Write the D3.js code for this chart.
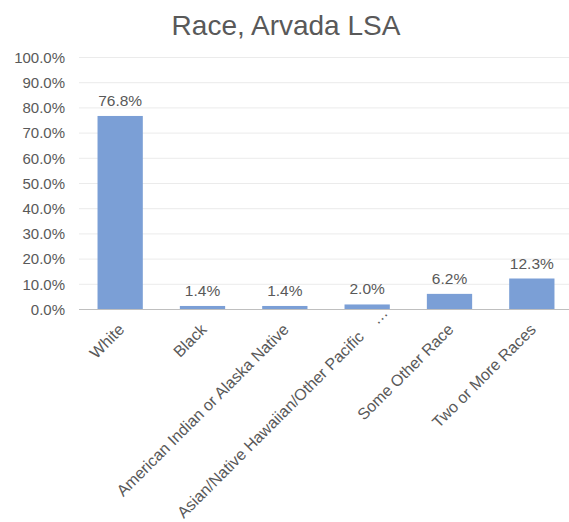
<!DOCTYPE html>
<html>
<head>
<meta charset="utf-8">
<script src="https://cdn.jsdelivr.net/npm/d3@7"></script>
<style>
  body { margin:0; background:#fff; }
  text { font-family: "Liberation Sans", Arial, sans-serif; }
</style>
</head>
<body>
<div id="chart"></div>
<script>
var categories = ["White", "Black", "American Indian or Alaska Native",
                  "Asian/Native Hawaiian/Other Pacific    \u2026", "Some Other Race", "Two or More Races"];
var values = [76.8, 1.4, 1.4, 2.0, 6.2, 12.3];
var yTicks = [0, 10, 20, 30, 40, 50, 60, 70, 80, 90, 100];

var _dim = {width:569, height:522},
    _plot = {left:79, right:573, top:57.5, bottom:309.5},
    _labelFont = 16,
    _textColor = "#595959";

var svg = d3.select("#chart").append("svg")
    .attr("width", _dim.width).attr("height", _dim.height);

//--------------------------------- Titulo
svg.append("text")
    .attr("x", 286).attr("y", 35)
    .attr("text-anchor", "middle")
    .attr("font-size", 28).attr("fill", _textColor)
    .text("Race, Arvada LSA");

var x = d3.scaleBand().domain(categories).range([_plot.left, _plot.right]).paddingInner(0.45).paddingOuter(0.225);
var y = d3.scaleLinear().domain([0, 100]).range([_plot.bottom, _plot.top]);

//--------------------------------- Grade
svg.append("g").selectAll("line").data(yTicks.filter(function(d){ return d > 0; }))
  .enter().append("line")
    .attr("x1", _plot.left).attr("x2", _plot.right)
    .attr("y1", function(d){ return y(d); }).attr("y2", function(d){ return y(d); })
    .attr("stroke", "#ebebeb").attr("stroke-width", 1);

//--------------------------------- Eixo Y
var yAxis = svg.append("g")
    .attr("transform", "translate(" + _plot.left + ",0)")
    .call(d3.axisLeft(y).tickValues(yTicks).tickSize(0).tickPadding(14)
          .tickFormat(function(d){ return d.toFixed(1) + "%"; }));
yAxis.select(".domain").remove();
yAxis.selectAll("text").attr("font-size", 15).attr("fill", _textColor)
    .attr("font-family", "Liberation Sans, Arial, sans-serif");

//--------------------------------- Barras
svg.append("g").selectAll("rect").data(values)
  .enter().append("rect")
    .attr("x", function(d, i){ return x(categories[i]); })
    .attr("y", function(d){ return y(d); })
    .attr("width", x.bandwidth())
    .attr("height", function(d){ return y(0) - y(d); })
    .attr("fill", "#7b9fd6");

//--------------------------------- Rotulos de dados
svg.append("g").selectAll("text").data(values)
  .enter().append("text")
    .attr("x", function(d, i){ return x(categories[i]) + x.bandwidth()/2; })
    .attr("y", function(d){ return y(d) - 10; })
    .attr("text-anchor", "middle")
    .attr("font-size", 15.5).attr("fill", _textColor)
    .text(function(d){ return d.toFixed(1) + "%"; });

//--------------------------------- Eixo X
svg.append("line")
    .attr("x1", _plot.left).attr("x2", _plot.right)
    .attr("y1", _plot.bottom).attr("y2", _plot.bottom)
    .attr("stroke", "#bfbfbf").attr("stroke-width", 1);

var ty = _plot.bottom + 13, dyPx = 0.71 * _labelFont, c45 = Math.SQRT1_2;
svg.append("g").selectAll("text").data(categories)
  .enter().append("text")
    .attr("transform", function(d){
        return "translate(" + (x(d) + x.bandwidth()/2 - 3) + "," + ty + ") rotate(-45)";
    })
    .attr("text-anchor", "end")
    .attr("dy", "0.71em")
    .attr("font-size", _labelFont).attr("fill", _textColor)
    .attr("xml:space", "preserve")
    .text(function(d){ return d; })
    .each(function() {          // empurra rotulo longo para cima se passar da borda
        var len = this.getComputedTextLength();
        var yStart = ty + (len + dyPx) * c45;
        if (yStart > _dim.height - 3)
            d3.select(this).attr("dx", (yStart - (_dim.height - 3)) / c45);
    });
</script>
</body>
</html>
